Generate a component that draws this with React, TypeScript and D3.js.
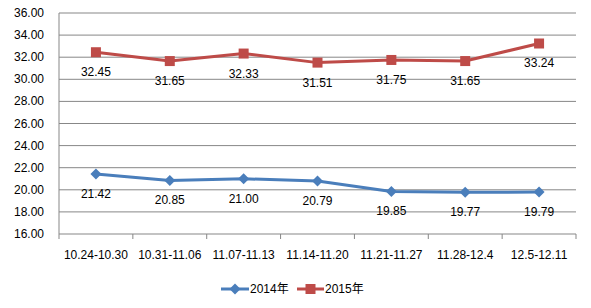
import React from "react";
import * as d3 from "d3";

const categories = ["10.24-10.30", "10.31-11.06", "11.07-11.13", "11.14-11.20", "11.21-11.27", "11.28-12.4", "12.5-12.11"];
const series2014 = [21.42, 20.85, 21.0, 20.79, 19.85, 19.77, 19.79];
const series2015 = [32.45, 31.65, 32.33, 31.51, 31.75, 31.65, 33.24];
const yTicks = [16, 18, 20, 22, 24, 26, 28, 30, 32, 34, 36];
const seriesNames = ["2014年", "2015年"];

const W = 591, H = 308;
const left = 59, right = 576, top = 13, bottom = 234;
const FONT = "'Liberation Sans', 'Noto Sans CJK SC', sans-serif";
const BLUE = "#4A7EBB";
const RED = "#BE4B48";
const GRID = "#878787";

export default function App() {
  const x = d3.scaleBand<string>().domain(categories).range([left, right]);
  const y = d3.scaleLinear().domain([16, 36]).range([bottom, top]);
  const cx = (c: string) => (x(c) as number) + x.bandwidth() / 2;
  const line = d3.line<number>().x((_, i) => cx(categories[i])).y((d) => y(d));

  return (
    <svg width={W} height={H} style={{ position: "absolute", left: 0, top: 0, background: "#fff" }} fontFamily={FONT}>
      {yTicks.map((t) => (
        <g key={t}>
          <line x1={left} x2={right} y1={y(t)} y2={y(t)} stroke={GRID} strokeWidth={1} />
          <text x={44} y={y(t) + 4} fontSize={12} textAnchor="end" fill="#000">{t.toFixed(2)}</text>
        </g>
      ))}
      <line x1={left} x2={left} y1={top} y2={bottom} stroke={GRID} />
      {categories.map((c, i) => (
        <line key={"tk" + i} x1={x(c) as number} x2={x(c) as number} y1={bottom} y2={bottom + 5} stroke={GRID} />
      ))}
      <line x1={right} x2={right} y1={bottom} y2={bottom + 5} stroke={GRID} />
      {categories.map((c) => (
        <text key={c} x={cx(c)} y={259} fontSize={12} textAnchor="middle" fill="#000">{c}</text>
      ))}
      <path d={line(series2014) || ""} fill="none" stroke={BLUE} strokeWidth={3} strokeLinejoin="round" />
      <path d={line(series2015) || ""} fill="none" stroke={RED} strokeWidth={3} strokeLinejoin="round" />
      {series2014.map((v, i) => {
        const px = cx(categories[i]), py = y(v);
        return (
          <g key={"b" + i}>
            <path d={`M${px},${py - 5.5}L${px + 5.5},${py}L${px},${py + 5.5}L${px - 5.5},${py}Z`} fill={BLUE} />
            <text x={px} y={py + 24} fontSize={12} textAnchor="middle" fill="#000">{v.toFixed(2)}</text>
          </g>
        );
      })}
      {series2015.map((v, i) => {
        const px = cx(categories[i]), py = y(v);
        return (
          <g key={"r" + i}>
            <rect x={px - 5} y={py - 5} width={10} height={10} fill={RED} />
            <text x={px} y={py + 24} fontSize={12} textAnchor="middle" fill="#000">{v.toFixed(2)}</text>
          </g>
        );
      })}
      <g>
        <line x1={221} x2={249} y1={289} y2={289} stroke={BLUE} strokeWidth={3} />
        <path d={`M235,283.5L240.5,289L235,294.5L229.5,289Z`} fill={BLUE} />
        <text x={250} y={293} fontSize={12} fill="#000">{seriesNames[0]}</text>
        <line x1={297} x2={324} y1={289} y2={289} stroke={RED} strokeWidth={3} />
        <rect x={305.5} y={284} width={10} height={10} fill={RED} />
        <text x={325} y={293} fontSize={12} fill="#000">{seriesNames[1]}</text>
      </g>
    </svg>
  );
}
